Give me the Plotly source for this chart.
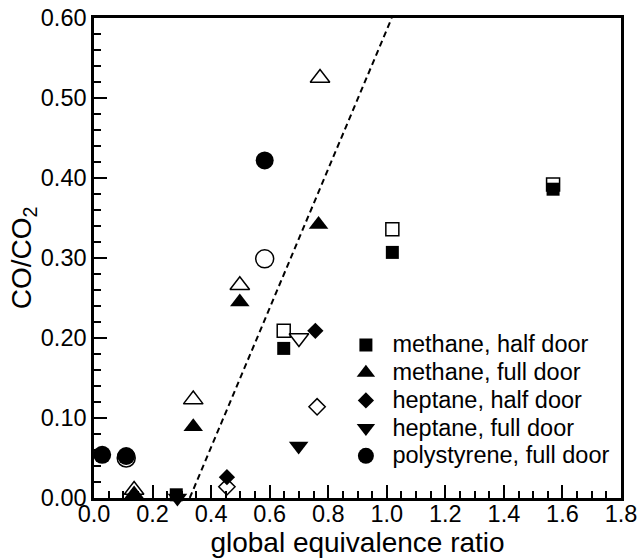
import plotly.graph_objects as go

# methane, half door
mh_x = [0.281, 0.648, 1.019, 1.568]
mh_y = [0.004, 0.187, 0.307, 0.386]
mh_open_x = [0.648, 1.019, 1.568]
mh_open_y = [0.209, 0.336, 0.392]

# methane, full door
mf_x = [0.137, 0.339, 0.498, 0.767]
mf_y = [0.005, 0.089, 0.245, 0.342]
mf_open_x = [0.137, 0.339, 0.498, 0.772]
mf_open_y = [0.010, 0.123, 0.266, 0.525]

# heptane, half door
hh_x = [0.454, 0.756]
hh_y = [0.026, 0.209]
hh_open_x = [0.454, 0.762]
hh_open_y = [0.014, 0.114]

# heptane, full door
hf_x = [0.285, 0.699]
hf_y = [0.000, 0.065]
hf_open_x = [0.700]
hf_open_y = [0.200]

# polystyrene, full door
ps_x = [0.028, 0.110, 0.583]
ps_y = [0.054, 0.0525, 0.422]
ps_open_x = [0.110, 0.583]
ps_open_y = [0.050, 0.299]

# dashed reference line
line_x = [0.327, 1.017]
line_y = [0.0, 0.60]

x_range = [0.0, 1.8]
y_range = [0.0, 0.60]

FONT = "Liberation Sans, Arial, sans-serif"
LEG_FS = 23.5

fig = go.Figure()

fig.add_trace(go.Scatter(x=line_x, y=line_y, mode="lines",
                         line=dict(color="black", width=2, dash="6px,4px"),
                         showlegend=False, hoverinfo="skip"))

open_sets = [
    (mh_open_x, mh_open_y, "square-open", 13),
    (mf_open_x, mf_open_y, "triangle-up-open", 17),
    (hh_open_x, hh_open_y, "diamond-open", 12.5),
    (hf_open_x, hf_open_y, "triangle-down-open", 17),
    (ps_open_x, ps_open_y, "circle-open", 18),
]
for xs, ys, sym, sz in open_sets:
    fig.add_trace(go.Scatter(x=xs, y=ys, mode="markers",
                             marker=dict(symbol=sym, size=sz, color="black",
                                         line=dict(width=1.5, color="black")),
                             showlegend=False, cliponaxis=False))

filled_sets = [
    (mh_x, mh_y, "square", 13, "methane, half door"),
    (mf_x, mf_y, "triangle-up", 17, "methane, full door"),
    (hh_x, hh_y, "diamond", 12.5, "heptane, half door"),
    (hf_x, hf_y, "triangle-down", 17, "heptane, full door"),
    (ps_x, ps_y, "circle", 18, "polystyrene, full door"),
]
for xs, ys, sym, sz, name in filled_sets:
    fig.add_trace(go.Scatter(x=xs, y=ys, mode="markers",
                             name='<span style="font-size:%spx">\u00a0%s</span>' % (LEG_FS, name),
                             marker=dict(symbol=sym, size=sz, color="black",
                                         line=dict(width=0)),
                             cliponaxis=False))

axis_common = dict(
    showgrid=False, zeroline=False, automargin=False,
    showline=True, linecolor="black", linewidth=2.5, mirror=True,
    ticks="inside", ticklen=13, tickwidth=2, tickcolor="black",
    tickfont=dict(family=FONT, size=23.5, color="black"),
)

fig.update_xaxes(range=x_range, dtick=0.2, tick0=0, tickformat=".1f",
                 ticklabelstandoff=-7,
                 minor=dict(dtick=0.05, ticks="inside", ticklen=7, tickwidth=1.5, tickcolor="black"),
                 title=dict(text="global equivalence ratio", font=dict(family=FONT, size=28, color="black"),
                            standoff=0),
                 **axis_common)
fig.update_yaxes(range=y_range, dtick=0.1, tick0=0, tickformat=".2f",
                 minor=dict(dtick=0.02, ticks="inside", ticklen=7, tickwidth=1.5, tickcolor="black"),
                 title=dict(text="CO/CO<sub>2</sub>", font=dict(family=FONT, size=28, color="black"),
                            standoff=0),
                 **axis_common)

fig.update_layout(
    width=639, height=558,
    margin=dict(l=94, r=18, t=18, b=60),
    paper_bgcolor="white", plot_bgcolor="white",
    font=dict(family=FONT, color="black"),
    legend=dict(x=0.478, y=0.358, xanchor="left", yanchor="top",
                font=dict(family=FONT, size=19, color="black"),
                bgcolor="rgba(0,0,0,0)", borderwidth=0),
)

fig.write_html("out.html",
               config={"displayModeBar": False},
               post_script="document.body.style.margin='0px';document.body.style.overflow='hidden';")
